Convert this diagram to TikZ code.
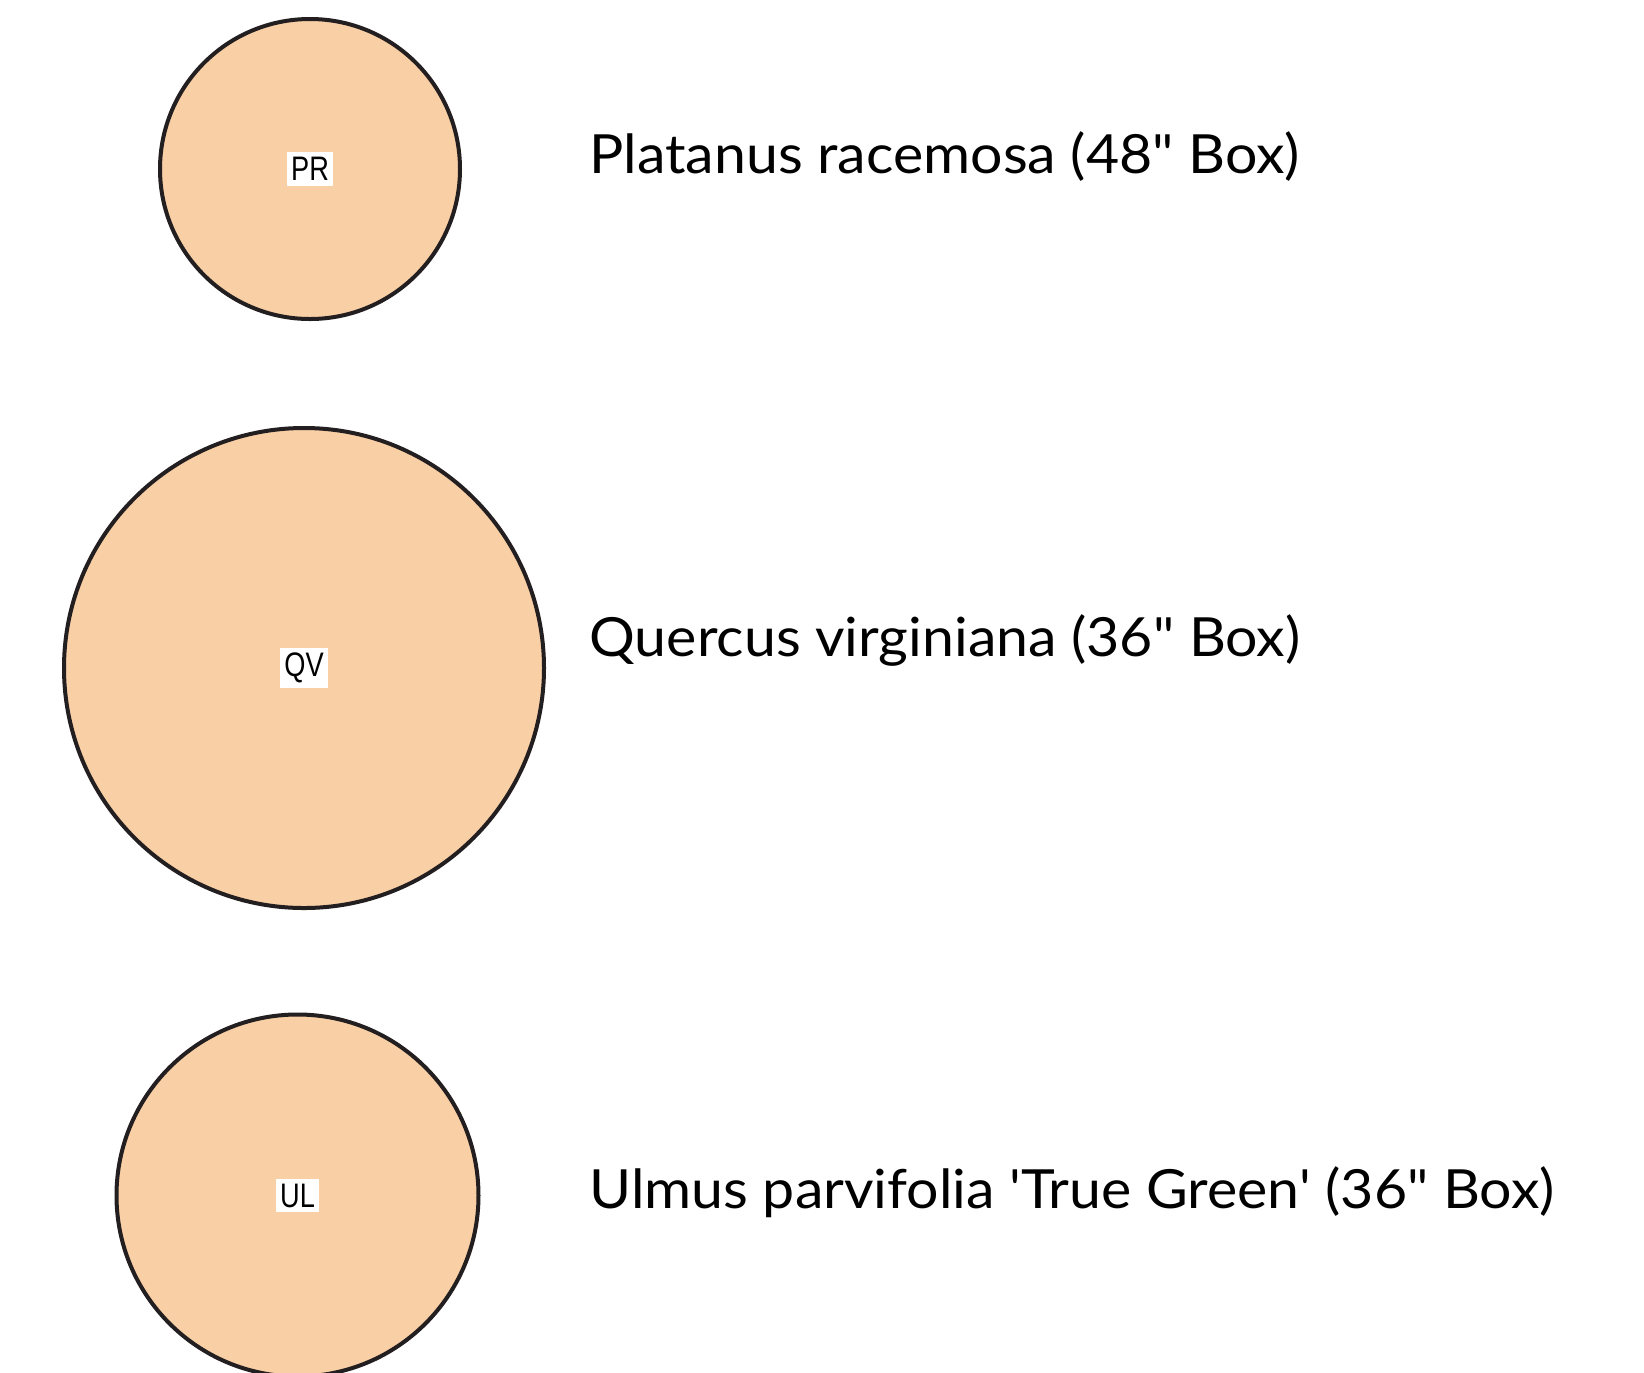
\documentclass[tikz,border=0pt]{standalone}
\usepackage{fontspec}
\newfontfamily\spfont[FakeStretch=1.06]{Lato}
\newfontfamily\lblfont[FakeStretch=0.8]{Liberation Sans}
\definecolor{peach}{HTML}{F9CFA5}
\definecolor{edge}{HTML}{231F20}
\tikzset{
  treecirc/.style={circle, draw=edge, fill=peach, line width=2pt, inner sep=0pt},
  codebox/.style={fill=white, inner xsep=2pt, inner ysep=2.5pt, font=\lblfont\fontsize{17}{17}\selectfont, text=black},
  sptext/.style={anchor=base west, inner sep=0pt, font=\spfont\fontsize{27}{30}\selectfont, text=black}
}
\begin{document}
\begin{tikzpicture}[x=0.5pt,y=-0.5pt]
\useasboundingbox (0,0) rectangle (1644,1372);
\node[treecirc, minimum size=150pt] (pr) at (310,169) {};
\node[treecirc, minimum size=240pt] (qv) at (304,668) {};
\node[treecirc, minimum size=181pt] (ul) at (297.5,1195.5) {};
\node[codebox] (prl) at (pr.center) {PR};
\node[codebox] (qvl) at (qv.center) {QV};
\node[codebox] (ull) at (ul.center) {UL};
\node[sptext] (prt) at (589,173) {Platanus racemosa (48" Box)};
\node[sptext] (qvt) at (589,656) {Quercus virginiana (36" Box)};
\node[sptext] (ult) at (589,1208) {Ulmus parvifolia 'True Green' (36" Box)};
\end{tikzpicture}
\end{document}
